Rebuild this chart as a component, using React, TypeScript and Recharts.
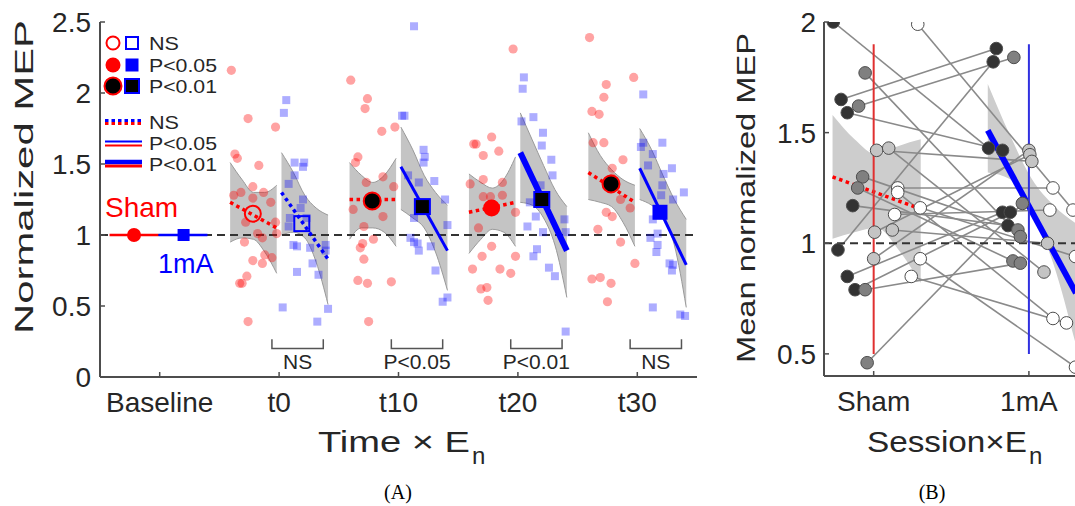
import React from 'react';
import { ComposedChart, Line, Area, Scatter, XAxis, YAxis, ReferenceLine } from 'recharts';

const FONT = '"Liberation Sans", Arial, Helvetica, sans-serif';
const SERIF = '"Liberation Serif", "Times New Roman", serif';
const AX = '#4d4d4d';
const TXT = '#262626';

// ---------- panel A: normalized MEP over time ----------
const timeTicks = [1, 2, 3, 4, 5];
const timeLabels = ['Baseline', 't0', 't10', 't20', 't30'];
const mepTicks = [0, 0.5, 1, 1.5, 2, 2.5];

// single-subject values, sham session  [x, MEP]
const shamRaw: [number, number][] = [
  [1.6, 2.16], [1.74, 1.82], [1.97, 1.76], [1.63, 1.57], [1.65, 1.54], [1.83, 1.49], [1.78, 1.34], [1.87, 1.3],
  [1.62, 1.28], [1.68, 1.3], [1.78, 1.26], [1.93, 1.23], [1.97, 1.09], [1.72, 1.09], [1.82, 1.01], [1.98, 1.01],
  [1.86, 0.98], [1.71, 0.95], [1.88, 0.86], [1.94, 0.84], [1.78, 0.82], [1.86, 0.8], [1.73, 0.71], [1.67, 0.66],
  [1.69, 0.66], [1.74, 0.39],
  [2.6, 2.09], [2.74, 1.96], [2.72, 1.89], [2.86, 1.73], [2.97, 1.76], [2.66, 1.55], [2.64, 1.51], [2.87, 1.41],
  [2.73, 1.37], [2.96, 1.34], [2.62, 1.18], [2.87, 1.13], [2.71, 1.06], [2.79, 0.97], [2.7, 0.94], [2.68, 0.91],
  [2.71, 0.83], [2.66, 0.68], [2.74, 0.66], [2.94, 0.67], [2.75, 0.39],
  [3.96, 2.31], [3.78, 1.69], [3.63, 1.64], [3.65, 1.64], [3.84, 1.59], [3.71, 1.56], [3.6, 1.36], [3.71, 1.39],
  [3.87, 1.37], [3.71, 1.27], [3.77, 1.27], [3.87, 1.28], [3.98, 1.16], [3.67, 1.05], [3.78, 0.92], [3.7, 0.85],
  [3.98, 0.85], [3.62, 0.76], [3.85, 0.76], [3.94, 0.73], [3.74, 0.63], [3.69, 0.62], [3.75, 0.54],
  [4.6, 2.39], [4.97, 2.11], [4.74, 2.06], [4.72, 1.97], [4.62, 1.87], [4.68, 1.85], [4.63, 1.65], [4.72, 1.65],
  [4.79, 1.47], [4.88, 1.53], [4.79, 1.4], [4.86, 1.25], [4.94, 1.19], [4.74, 1.16], [4.79, 1.13], [4.67, 1.04],
  [4.86, 0.95], [4.98, 0.8], [4.62, 0.69], [4.69, 0.7], [4.78, 0.66], [4.75, 0.53],
];

// single-subject values, 1mA session  [x, MEP]
const mARaw: [number, number][] = [
  [2.06, 1.95], [2.04, 1.86], [2.13, 1.51], [2.21, 1.51], [2.2, 1.48], [2.13, 1.42], [2.08, 1.36], [2.2, 1.25],
  [2.18, 1.19], [2.09, 1.12], [2.23, 1.12], [2.08, 1.06], [2.12, 0.93], [2.15, 0.92], [2.26, 0.91], [2.39, 0.93],
  [2.39, 0.89], [2.28, 0.8], [2.15, 0.74], [2.33, 0.72], [2.03, 0.49], [2.41, 0.48], [2.32, 0.39],
  [3.13, 2.47], [3.03, 1.84], [3.05, 1.84], [3.21, 1.6], [3.22, 1.55], [3.21, 1.51], [3.08, 1.42], [3.17, 1.37],
  [3.3, 1.38], [3.39, 1.25], [3.13, 1.12], [3.41, 1.07], [3.1, 0.98], [3.13, 0.95], [3.16, 0.94], [3.27, 0.92],
  [3.17, 0.89], [3.31, 0.75], [3.37, 0.53], [3.41, 0.56],
  [4.05, 2.11], [4.04, 2.03], [4.13, 1.83], [4.03, 1.8], [4.21, 1.72], [4.2, 1.63], [4.28, 1.53], [4.29, 1.42],
  [4.19, 1.35], [4.1, 1.23], [4.15, 1.13], [4.39, 1.11], [4.08, 1.06], [4.21, 1.02], [4.4, 1.02], [4.16, 0.9],
  [4.13, 0.85], [4.26, 0.77], [4.31, 0.71], [4.4, 0.32],
  [5.05, 1.99], [5.05, 1.65], [5.21, 1.65], [5.03, 1.62], [5.13, 1.57], [5.09, 1.49], [5.29, 1.47], [5.22, 1.43],
  [5.21, 1.35], [5.39, 1.3], [5.2, 1.28], [5.3, 1.25], [5.13, 1.11], [5.17, 1.01], [5.11, 0.98], [5.17, 0.93],
  [5.16, 0.88], [5.27, 0.8], [5.3, 0.79], [5.29, 0.75], [5.13, 0.49], [5.36, 0.44], [5.4, 0.43],
];

// regression confidence bands
const shamBands = [
  { x: [1.59, 1.69, 1.785, 1.88, 1.98], lo: [0.95, 0.98, 0.97, 0.88, 0.73], hi: [1.51, 1.39, 1.3, 1.3, 1.35] },
  { x: [2.59, 2.69, 2.785, 2.88, 2.98], lo: [0.97, 1.05, 1.05, 1.02, 0.92], hi: [1.51, 1.42, 1.37, 1.42, 1.54] },
  { x: [3.59, 3.69, 3.785, 3.88, 3.98], lo: [0.87, 0.97, 1.04, 1.02, 0.92], hi: [1.43, 1.37, 1.33, 1.39, 1.55] },
  { x: [4.59, 4.69, 4.785, 4.88, 4.98], lo: [1.25, 1.23, 1.2, 1.09, 0.92], hi: [1.72, 1.56, 1.46, 1.39, 1.35] },
];
const mABands = [
  { x: [2.02, 2.12, 2.215, 2.31, 2.41], lo: [1.0, 1.02, 0.98, 0.81, 0.51], hi: [1.58, 1.44, 1.28, 1.19, 1.14] },
  { x: [3.02, 3.12, 3.215, 3.31, 3.41], lo: [1.18, 1.12, 1.05, 0.88, 0.61], hi: [1.76, 1.6, 1.42, 1.3, 1.21] },
  { x: [4.02, 4.12, 4.215, 4.31, 4.41], lo: [1.23, 1.21, 1.12, 0.93, 0.56], hi: [1.86, 1.67, 1.49, 1.32, 1.2] },
  { x: [5.02, 5.12, 5.215, 5.31, 5.41], lo: [1.25, 1.21, 1.14, 0.93, 0.49], hi: [1.75, 1.6, 1.42, 1.25, 1.11] },
];

// regression lines and group means
const shamFits = [
  { x: [1.59, 1.98], y: [1.23, 1.05], sig: 'ns' },
  { x: [2.59, 2.98], y: [1.25, 1.25], sig: 'ns' },
  { x: [3.59, 3.98], y: [1.16, 1.23], sig: 'ns' },
  { x: [4.59, 4.98], y: [1.44, 1.23], sig: 'ns' },
];
const mAFits = [
  { x: [2.02, 2.41], y: [1.3, 0.83], sig: 'ns' },
  { x: [3.02, 3.41], y: [1.48, 0.89], sig: 'p05' },
  { x: [4.02, 4.41], y: [1.58, 0.89], sig: 'p01' },
  { x: [5.02, 5.41], y: [1.47, 0.79], sig: 'p05' },
];
const shamMeans = [
  { x: 1.78, y: 1.15, sig: 'ns' },
  { x: 2.78, y: 1.24, sig: 'p01' },
  { x: 3.78, y: 1.19, sig: 'p05' },
  { x: 4.78, y: 1.36, sig: 'p01' },
];
const mAMeans = [
  { x: 2.19, y: 1.08, sig: 'ns' },
  { x: 3.2, y: 1.2, sig: 'p01' },
  { x: 4.2, y: 1.25, sig: 'p01' },
  { x: 5.19, y: 1.16, sig: 'p05' },
];

// baseline (normalized to 1)
const baseShamLine = [0.58, 0.99];
const baseMALine = [0.99, 1.4];
const baseMeans = [{ x: 0.785, y: 1, grp: 'sham' }, { x: 1.2, y: 1, grp: 'ma' }];

// sham vs 1mA slope contrasts
const contrastX = [[1.94, 2.37], [2.94, 3.37], [3.94, 4.37], [4.94, 5.37]];
const contrastLabels = ['NS', 'P<0.05', 'P<0.01', 'NS'];

// ---------- panel B: session means per subject ----------
const sessionTicks = [1, 2];
const sessionLabels = ['Sham', '1mA'];
const meanTicks = [0.5, 1, 1.5, 2];
const fieldOffset = [-0.26, -0.23, -0.21, -0.17, -0.17, -0.135, -0.12, -0.097, -0.071, -0.103, -0.055, -0.055, -0.042,
  0.0, 0.006, 0.019, 0.097, 0.12, 0.135, 0.155, 0.155, 0.242, 0.284, 0.3, 0.3];
const shamMean = [2.0, 0.97, 1.65, 1.59, 0.85, 1.17, 0.79, 1.62, 1.3, 1.25, 1.77, 0.79, 0.46,
  0.93, 1.05, 1.42, 1.43, 1.06, 1.13, 1.25, 1.23, 0.85, 1.99, 1.16, 0.93];
const mAMean = [1.43, 1.82, 1.88, 1.42, 1.14, 1.08, 1.14, 1.84, 1.06, 0.92, 1.03, 0.91, 1.18,
  1.42, 1.4, 1.37, 0.87, 1.0, 1.15, 1.25, 0.66, 0.64, 1.15, 0.94, 0.44];
const fieldTone = [0, 0, 0, 0, 0, 0, 0, 1, 1, 1, 1, 1, 1, 2, 2, 2, 2, 2, 3, 3, 3, 3, 3, 3, 3];
const toneFill = ['#333333', '#808080', '#c4c4c4', '#ffffff'];

const shamFitB = { x: [0.735, 1.303], y: [1.3, 1.155] };
const mAFitB = { x: [1.735, 2.303], y: [1.51, 0.775] };
const shamBandB = { x: [0.735, 0.877, 1.019, 1.161, 1.303], lo: [1.02, 1.05, 1.07, 0.97, 0.82], hi: [1.58, 1.47, 1.4, 1.44, 1.47] };
const mABandB = { x: [1.735, 1.877, 2.019, 2.161, 2.303], lo: [1.32, 1.29, 1.14, 0.9, 0.54], hi: [1.72, 1.49, 1.29, 1.17, 1.09] };
const sessionSpan = [0.5, 1.9];

// ---------- helpers ----------
const pts = (xs: number[], ys: number[]) => xs.map((x, i) => ({ x, y: ys[i] }));
const band = (b: { x: number[]; lo: number[]; hi: number[] }) => b.x.map((x, i) => ({ x, r: [b.lo[i], b.hi[i]] }));

const redDot = (p: any) => <circle cx={p.cx} cy={p.cy} r={4.6} fill="#ff0000" fillOpacity={0.36} />;
const blueSq = (p: any) => (
  <rect x={p.cx - 4} y={p.cy - 4} width={8} height={8} fill="#0000ff" fillOpacity={0.32} />
);
const shamMark = (p: any) => {
  const s = p.payload.sig;
  if (s === 'ns') return <circle cx={p.cx} cy={p.cy} r={8} fill="none" stroke="#ff0000" strokeWidth={2} />;
  if (s === 'p05') return <circle cx={p.cx} cy={p.cy} r={8.5} fill="#ff0000" />;
  return <circle cx={p.cx} cy={p.cy} r={8.5} fill="#000" stroke="#ff0000" strokeWidth={2} />;
};
const mAMark = (p: any) => {
  const s = p.payload.sig;
  const h = 7.5;
  if (s === 'ns') return <rect x={p.cx - h} y={p.cy - h} width={2 * h} height={2 * h} fill="none" stroke="#0000ff" strokeWidth={2} />;
  if (s === 'p05') return <rect x={p.cx - h} y={p.cy - h} width={2 * h} height={2 * h} fill="#0000ff" />;
  return <rect x={p.cx - h} y={p.cy - h} width={2 * h} height={2 * h} fill="#000" stroke="#0000ff" strokeWidth={2} />;
};
const baseMark = (p: any) =>
  p.payload.grp === 'sham' ? (
    <circle cx={p.cx} cy={p.cy} r={7} fill="#ff0000" />
  ) : (
    <rect x={p.cx - 6} y={p.cy - 6} width={12} height={12} fill="#0000ff" />
  );
const contrastText = (p: any) => (
  <text x={p.cx} y={p.cy} textAnchor="middle" fontSize={21} fontFamily={FONT} fill={TXT}>
    {p.payload.label}
  </text>
);
const subjectDot = (p: any) => (
  <circle cx={p.cx} cy={p.cy} r={6.3} fill={toneFill[p.payload.tone]} stroke="#4d4d4d" strokeWidth={1} />
);

const fitStyle = (sig: string) =>
  sig === 'ns'
    ? { strokeWidth: 3.5, strokeDasharray: '3.5 3.5' }
    : sig === 'p05'
      ? { strokeWidth: 3 }
      : { strokeWidth: 6 };

const tickFont = { fontSize: 28, fill: TXT, fontFamily: FONT };

// ---------- chart data ----------
const shamRawData = shamRaw.map(([x, y]) => ({ x, y }));
const mARawData = mARaw.map(([x, y]) => ({ x, y }));
const contrastTextData = contrastX.map((c, i) => ({ x: (c[0] + c[1]) / 2, y: 0.056, label: contrastLabels[i] }));
const subjectDots = fieldOffset.flatMap((d, i) => [
  { x: 1 + d, y: shamMean[i], tone: fieldTone[i] },
  { x: 2 + d, y: mAMean[i], tone: fieldTone[i] },
]);

function PanelA() {
  return (
    <ComposedChart width={720} height={506} margin={{ top: 22, right: 23, bottom: 0, left: 0 }}>
      <XAxis
        type="number" dataKey="x" domain={[0.5, 5.5]} ticks={timeTicks} interval={0} allowDataOverflow
        tickFormatter={(v: number) => timeLabels[Math.round(v) - 1]} height={129}
        tickSize={-5} tickMargin={20} tick={tickFont}
        axisLine={{ stroke: AX, strokeWidth: 2 }} tickLine={{ stroke: AX, strokeWidth: 1.5 }}
      />
      <XAxis
        xAxisId="top" orientation="top" type="number" domain={[0.5, 5.5]} ticks={timeTicks} interval={0}
        height={0} tickSize={-5} tickFormatter={() => ''}
        axisLine={{ stroke: AX, strokeWidth: 2 }} tickLine={{ stroke: AX, strokeWidth: 1.5 }}
      />
      <YAxis
        type="number" dataKey="y" domain={[0, 2.5]} ticks={mepTicks} interval={0} allowDataOverflow width={100}
        tickSize={-5} tickMargin={14} tick={tickFont}
        axisLine={{ stroke: AX, strokeWidth: 2 }} tickLine={{ stroke: AX, strokeWidth: 1.5 }}
      />
      <YAxis
        yAxisId="right" orientation="right" type="number" domain={[0, 2.5]} ticks={mepTicks} interval={0}
        width={0} tickSize={-5} tickFormatter={() => ''}
        axisLine={{ stroke: AX, strokeWidth: 2 }} tickLine={{ stroke: AX, strokeWidth: 1.5 }}
      />

      {[...shamBands, ...mABands].map((b, i) => (
        <Area key={`band${i}`} data={band(b)} dataKey="r" type="monotone" fill="#c4c4c4" fillOpacity={1}
          stroke="#9a9a9a" strokeWidth={1} isAnimationActive={false} dot={false} activeDot={false} />
      ))}

      <Scatter data={shamRawData} shape={redDot} isAnimationActive={false} />
      <Scatter data={mARawData} shape={blueSq} isAnimationActive={false} />

      <ReferenceLine y={1} stroke="#333" strokeWidth={2} strokeDasharray="8 5" />

      <Line data={pts(baseShamLine, [1, 1])} dataKey="y" stroke="#ff0000" strokeWidth={2.5} dot={false} activeDot={false} isAnimationActive={false} />
      <Line data={pts(baseMALine, [1, 1])} dataKey="y" stroke="#0000ff" strokeWidth={2.5} dot={false} activeDot={false} isAnimationActive={false} />
      <Scatter data={baseMeans} shape={baseMark} isAnimationActive={false} />

      {shamFits.map((f, i) => (
        <Line key={`sf${i}`} data={pts(f.x, f.y)} dataKey="y" stroke="#ff0000" {...fitStyle(f.sig)}
          dot={false} activeDot={false} isAnimationActive={false} />
      ))}
      {mAFits.map((f, i) => (
        <Line key={`mf${i}`} data={pts(f.x, f.y)} dataKey="y" stroke="#0000ff" {...fitStyle(f.sig)}
          dot={false} activeDot={false} isAnimationActive={false} />
      ))}
      <Scatter data={shamMeans} shape={shamMark} isAnimationActive={false} />
      <Scatter data={mAMeans} shape={mAMark} isAnimationActive={false} />

      {contrastX.map((c, i) => (
        <Line key={`br${i}`} data={pts([c[0], c[0], c[1], c[1]], [0.265, 0.2, 0.2, 0.265])} dataKey="y"
          stroke="#555" strokeWidth={1.5} dot={false} activeDot={false} isAnimationActive={false} />
      ))}
      <Scatter data={contrastTextData} shape={contrastText} isAnimationActive={false} />
    </ComposedChart>
  );
}

function PanelB() {
  return (
    <ComposedChart width={400} height={506} margin={{ top: 22, right: 39, bottom: 0, left: 0 }}>
      <XAxis
        type="number" dataKey="x" domain={[0.68, 2.4]} ticks={sessionTicks} interval={0} allowDataOverflow
        tickFormatter={(v: number) => sessionLabels[Math.round(v) - 1]} height={130}
        tickSize={-5} tickMargin={20} tick={tickFont}
        axisLine={{ stroke: AX, strokeWidth: 2 }} tickLine={{ stroke: AX, strokeWidth: 1.5 }}
      />
      <XAxis
        xAxisId="top" orientation="top" type="number" domain={[0.68, 2.4]} ticks={sessionTicks} interval={0}
        height={0} tickSize={-5} tickFormatter={() => ''}
        axisLine={{ stroke: AX, strokeWidth: 2 }} tickLine={{ stroke: AX, strokeWidth: 1.5 }}
      />
      <YAxis
        type="number" dataKey="y" domain={[0.4, 2]} ticks={meanTicks} interval={0} allowDataOverflow width={94}
        tickSize={-5} tickMargin={13} tick={tickFont}
        axisLine={{ stroke: AX, strokeWidth: 2 }} tickLine={{ stroke: AX, strokeWidth: 1.5 }}
      />

      {[shamBandB, mABandB].map((b, i) => (
        <Area key={`bb${i}`} data={band(b)} dataKey="r" type="monotone" fill="#cdcdcd" fillOpacity={1}
          stroke="none" isAnimationActive={false} dot={false} activeDot={false} />
      ))}

      {fieldOffset.map((d, i) => (
        <Line key={`s${i}`} data={pts([1 + d, 2 + d], [shamMean[i], mAMean[i]])} dataKey="y"
          stroke="#8a8a8a" strokeWidth={1.6} dot={false} activeDot={false} isAnimationActive={false} />
      ))}

      <ReferenceLine y={1} stroke="#333" strokeWidth={2} strokeDasharray="8 5" />

      <Line data={pts(shamFitB.x, shamFitB.y)} dataKey="y" stroke="#ff0000" strokeWidth={3.5} strokeDasharray="3.5 3.5"
        dot={false} activeDot={false} isAnimationActive={false} />
      <Line data={pts(mAFitB.x, mAFitB.y)} dataKey="y" stroke="#0000ff" strokeWidth={6}
        dot={false} activeDot={false} isAnimationActive={false} />

      <Scatter data={subjectDots} shape={subjectDot} isAnimationActive={false} />

      <Line data={pts([1, 1], sessionSpan)} dataKey="y" stroke="#e03030" strokeWidth={2}
        dot={false} activeDot={false} isAnimationActive={false} />
      <Line data={pts([2, 2], sessionSpan)} dataKey="y" stroke="#3030e0" strokeWidth={2}
        dot={false} activeDot={false} isAnimationActive={false} />
    </ComposedChart>
  );
}

function Overlay() {
  const lx0 = 105;
  const lx1 = 142;
  const tx = 149;
  const lt = { fontSize: 18, fontFamily: FONT, fill: TXT, lengthAdjust: 'spacingAndGlyphs' as const };
  return (
    <svg width={1075} height={506} style={{ position: 'absolute', left: 0, top: 0, pointerEvents: 'none' }}>
      {/* legend: markers */}
      <circle cx={113} cy={43} r={6.5} fill="none" stroke="#ff0000" strokeWidth={2} />
      <rect x={126} y={37} width={12} height={12} fill="none" stroke="#0000ff" strokeWidth={2} />
      <text x={tx} y={50} textLength={30} {...lt}>NS</text>
      <circle cx={113} cy={65} r={7.5} fill="#ff0000" />
      <rect x={125.5} y={58.5} width={13} height={13} fill="#0000ff" />
      <text x={tx} y={72} textLength={68} {...lt}>P&lt;0.05</text>
      <circle cx={113} cy={86} r={8.5} fill="#000" stroke="#ff0000" strokeWidth={2} />
      <rect x={125} y={79} width={14} height={14} fill="#000" stroke="#0000ff" strokeWidth={2} />
      <text x={tx} y={93} textLength={68} {...lt}>P&lt;0.01</text>
      {/* legend: lines */}
      <line x1={lx0} x2={lx1} y1={123.5} y2={123.5} stroke="#ff0000" strokeWidth={3} strokeDasharray="3.5 3" />
      <line x1={lx0} x2={lx1} y1={120.5} y2={120.5} stroke="#0000ff" strokeWidth={3} strokeDasharray="3.5 3" />
      <text x={tx} y={129} textLength={30} {...lt}>NS</text>
      <line x1={lx0} x2={lx1} y1={141.5} y2={141.5} stroke="#0000ff" strokeWidth={2} />
      <line x1={lx0} x2={lx1} y1={145.5} y2={145.5} stroke="#ff0000" strokeWidth={2} />
      <text x={tx} y={150} textLength={68} {...lt}>P&lt;0.05</text>
      <line x1={lx0} x2={lx1} y1={162} y2={162} stroke="#0000ff" strokeWidth={4.5} />
      <line x1={lx0} x2={lx1} y1={166} y2={166} stroke="#ff0000" strokeWidth={3} />
      <text x={tx} y={171} textLength={68} {...lt}>P&lt;0.01</text>

      <text x={105} y={217} fontSize={28} fontFamily={FONT} fill="#ff0000">Sham</text>
      <text x={158} y={273} fontSize={27} fontFamily={FONT} fill="#0000ff">1mA</text>

      {/* axis titles */}
      <text transform="translate(33,177) rotate(-90)" textAnchor="middle" fontSize={26} fontFamily={FONT} fill={TXT}
        textLength={314} lengthAdjust="spacingAndGlyphs">Normalized MEP</text>
      <text transform="translate(755,198) rotate(-90)" textAnchor="middle" fontSize={26} fontFamily={FONT} fill={TXT}
        textLength={330} lengthAdjust="spacingAndGlyphs">Mean normalized MEP</text>
      <text x={318} y={452} fontSize={29} fontFamily={FONT} fill={TXT} textLength={152} lengthAdjust="spacingAndGlyphs">
        Time × E
      </text>
      <text x={472} y={464} fontSize={24} fontFamily={FONT} fill={TXT}>n</text>
      <text x={867} y={452} fontSize={29} fontFamily={FONT} fill={TXT} textLength={160} lengthAdjust="spacingAndGlyphs">
        Session×E
      </text>
      <text x={1029} y={464} fontSize={24} fontFamily={FONT} fill={TXT}>n</text>

      <text x={398} y={499} textAnchor="middle" fontSize={20} fontFamily={SERIF} fill="#000">(A)</text>
      <text x={932} y={499} textAnchor="middle" fontSize={20} fontFamily={SERIF} fill="#000">(B)</text>
    </svg>
  );
}

export default function App() {
  return (
    <div style={{ position: 'fixed', left: 0, top: 0, width: 1075, height: 506, overflow: 'hidden', background: '#fff' }}>
      <div style={{ position: 'absolute', left: 0, top: 0 }}>
        <PanelA />
      </div>
      <div style={{ position: 'absolute', left: 730, top: 0 }}>
        <PanelB />
      </div>
      <Overlay />
    </div>
  );
}
